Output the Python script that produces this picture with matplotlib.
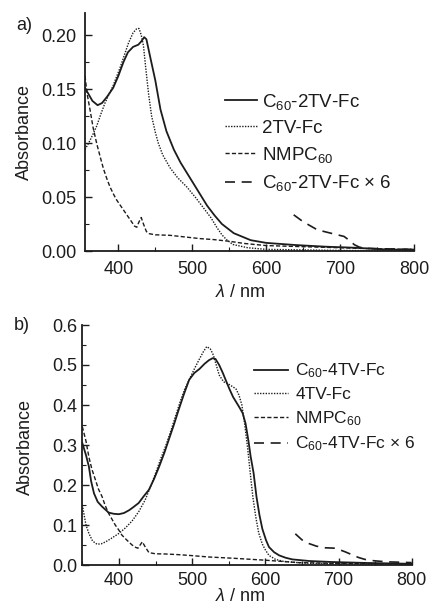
import matplotlib
matplotlib.use("Agg")
import matplotlib.pyplot as plt
from matplotlib.ticker import MultipleLocator, FormatStrFormatter

plt.rcParams['font.family'] = ['Liberation Sans', 'DejaVu Sans']
plt.rcParams['mathtext.fontset'] = 'custom'
plt.rcParams['mathtext.rm'] = 'Liberation Sans'
plt.rcParams['mathtext.it'] = 'Liberation Sans:italic'
plt.rcParams['mathtext.bf'] = 'Liberation Sans:bold'

# ---------------- Panel a data ----------------
a_c60_wl = [355, 360, 365, 372, 378, 385, 393, 400, 407, 413, 420, 427, 431, 435, 438, 443,
            450, 457, 465, 475, 484, 493, 502, 511, 520, 530, 540, 556, 579, 600, 640, 680,
            720, 760, 800]
a_c60_val = [0.151, 0.145, 0.139, 0.135, 0.137, 0.143, 0.151, 0.162, 0.175, 0.184, 0.189,
             0.191, 0.194, 0.198, 0.196, 0.180, 0.158, 0.131, 0.111, 0.094, 0.082, 0.072,
             0.062, 0.052, 0.042, 0.033, 0.025, 0.0165, 0.010, 0.0075, 0.0055, 0.004, 0.003,
             0.0015, 0.001]

a_tv_wl = [355, 360, 365, 371, 376, 382, 388, 393, 398, 402, 408, 414, 420, 425, 428, 431,
           434, 437, 441, 445, 450, 454, 460, 470, 480, 493, 505, 515, 525, 533, 540, 547,
           555, 575, 600, 700, 800]
a_tv_val = [0.094, 0.100, 0.107, 0.116, 0.126, 0.137, 0.146, 0.153, 0.162, 0.169, 0.181,
            0.193, 0.202, 0.206, 0.206, 0.200, 0.190, 0.170, 0.145, 0.125, 0.110, 0.100,
            0.089, 0.077, 0.068, 0.059, 0.049, 0.040, 0.031, 0.022, 0.015, 0.010, 0.006,
            0.003, 0.0015, 0.0005, 0.0]

a_nm_wl = [355, 358, 362, 366, 371, 376, 380, 385, 389, 394, 398, 405, 411, 417, 422, 425,
           428, 431, 434, 438, 442, 450, 470, 490, 510, 530, 550, 570, 600, 650, 700, 750, 800]
a_nm_val = [0.162, 0.145, 0.130, 0.114, 0.099, 0.086, 0.076, 0.066, 0.059, 0.052, 0.047,
            0.040, 0.034, 0.028, 0.023, 0.022, 0.027, 0.031, 0.025, 0.018, 0.016, 0.015,
            0.0145, 0.013, 0.0115, 0.0105, 0.009, 0.007, 0.005, 0.004, 0.003, 0.002, 0.0015]

a_x6_wl = [637, 650, 669, 690, 705, 712, 719, 726, 735, 760, 800]
a_x6_val = [0.0335, 0.027, 0.0196, 0.016, 0.0135, 0.010, 0.0058, 0.0035, 0.0025, 0.002, 0.0015]

# ---------------- Panel b data ----------------
b_c60_wl = [350, 355, 359, 362, 366, 371, 377, 386, 393, 400, 407, 414, 420, 427, 434, 441,
            448, 455, 462, 468, 475, 482, 489, 496, 503, 510, 517, 523, 528, 532, 537, 542,
            546, 551, 556, 564, 569, 573, 577, 580, 584, 588, 592, 596, 601, 605, 612, 619,
            628, 637, 660, 691, 740, 800]
b_c60_val = [0.305, 0.275, 0.246, 0.210, 0.179, 0.158, 0.146, 0.131, 0.128, 0.127, 0.130,
             0.137, 0.145, 0.155, 0.172, 0.188, 0.215, 0.246, 0.280, 0.3125, 0.350, 0.390,
             0.428, 0.463, 0.480, 0.490, 0.503, 0.512, 0.517, 0.515, 0.500, 0.480, 0.462,
             0.440, 0.420, 0.396, 0.380, 0.354, 0.310, 0.271, 0.230, 0.170, 0.125, 0.090,
             0.062, 0.045, 0.032, 0.024, 0.018, 0.014, 0.010, 0.0075, 0.005, 0.003]

b_tv_wl = [350, 352, 355, 359, 364, 370, 376, 382, 390, 400, 409, 418, 427, 436, 443, 450,
           457, 464, 470, 477, 484, 490, 496, 503, 510, 515, 520, 525, 529, 533, 537, 543,
           550, 556, 560, 564, 568, 572, 576, 580, 583, 587, 591, 596, 600, 605, 614, 625,
           650, 700, 800]
b_tv_val = [0.150, 0.130, 0.100, 0.079, 0.060, 0.052, 0.053, 0.058, 0.067, 0.079, 0.093,
            0.110, 0.133, 0.163, 0.195, 0.229, 0.265, 0.298, 0.330, 0.370, 0.410, 0.440,
            0.463, 0.490, 0.515, 0.532, 0.546, 0.540, 0.525, 0.500, 0.475, 0.458, 0.452,
            0.445, 0.440, 0.425, 0.400, 0.350, 0.290, 0.220, 0.170, 0.120, 0.080, 0.052,
            0.038, 0.024, 0.014, 0.009, 0.005, 0.003, 0.002]

b_nm_wl = [350, 355, 359, 363, 368, 372, 377, 381, 386, 391, 395, 400, 404, 411, 418, 423,
           426, 429, 432, 436, 441, 450, 464, 480, 496, 523, 555, 600, 645, 700, 800]
b_nm_val = [0.346, 0.310, 0.270, 0.240, 0.2125, 0.190, 0.171, 0.150, 0.129, 0.113, 0.100,
            0.087, 0.075, 0.062, 0.050, 0.044, 0.042, 0.050, 0.058, 0.045, 0.031, 0.028,
            0.0275, 0.026, 0.024, 0.020, 0.017, 0.012, 0.006, 0.004, 0.003]

b_x6_wl = [641, 650, 659, 670, 682, 696, 709, 718, 727, 736, 746, 765, 800]
b_x6_val = [0.078, 0.063, 0.054, 0.047, 0.043, 0.042, 0.033, 0.026, 0.019, 0.014, 0.011,
            0.008, 0.006]

legend_a = ['C$_{60}$-2TV-Fc', '2TV-Fc', 'NMPC$_{60}$', 'C$_{60}$-2TV-Fc × 6']
legend_b = ['C$_{60}$-4TV-Fc', '4TV-Fc', 'NMPC$_{60}$', 'C$_{60}$-4TV-Fc × 6']

ink = '#1c1c1c'
styles = [dict(ls='-', lw=1.3),
          dict(ls=(0, (1, 1)), lw=1.0),
          dict(ls=(0, (3, 1.6)), lw=1.0),
          dict(ls=(0, (6, 4)), lw=1.2)]

fig = plt.figure(figsize=(4.30, 6.06), dpi=100)
ax_a = fig.add_axes([85 / 430, 1 - 251 / 606, (414.3 - 85) / 430, (251 - 13.4) / 606])
ax_b = fig.add_axes([82.3 / 430, 1 - 565 / 606, (411.7 - 82.3) / 430, (565 - 325) / 606])


def style_axes(ax, xlim, ylim, ymaj, ymin, yfmt, xpad, ypad):
    ax.set_xlim(*xlim)
    ax.set_ylim(*ylim)
    for s in ['top', 'right']:
        ax.spines[s].set_visible(False)
    for s in ['left', 'bottom']:
        ax.spines[s].set_linewidth(1.3)
        ax.spines[s].set_color(ink)
    ax.xaxis.set_major_locator(MultipleLocator(100))
    ax.xaxis.set_minor_locator(MultipleLocator(50))
    ax.yaxis.set_major_locator(MultipleLocator(ymaj))
    ax.yaxis.set_minor_locator(MultipleLocator(ymin))
    ax.yaxis.set_major_formatter(FormatStrFormatter(yfmt))
    ax.tick_params(which='both', direction='in', color=ink, labelcolor=ink)
    ax.tick_params(which='major', length=5, width=1.0, labelsize=13)
    ax.tick_params(which='minor', length=3, width=0.8)
    ax.tick_params(axis='x', pad=xpad)
    ax.tick_params(axis='y', pad=ypad)


series_a = [(a_c60_wl, a_c60_val), (a_tv_wl, a_tv_val), (a_nm_wl, a_nm_val), (a_x6_wl, a_x6_val)]
series_b = [(b_c60_wl, b_c60_val), (b_tv_wl, b_tv_val), (b_nm_wl, b_nm_val), (b_x6_wl, b_x6_val)]

for (x, y), st, lab in zip(series_a, styles, legend_a):
    ax_a.plot(x, y, color=ink, label=lab, clip_on=True, **st)
for (x, y), st, lab in zip(series_b, styles, legend_b):
    ax_b.plot(x, y, color=ink, label=lab, clip_on=True, **st)

style_axes(ax_a, (355, 800), (0, 0.22), 0.05, 0.025, '%.2f', 7, 6)
style_axes(ax_b, (350, 800), (0, 0.6), 0.1, 0.05, '%.1f', 5, 3.5)

leg_a = ax_a.legend(frameon=False, loc='upper left', bbox_to_anchor=(0.425, 0.67),
                    fontsize=13.5, handlelength=1.7, handletextpad=0.27,
                    labelspacing=0.43, borderaxespad=0, borderpad=0)
leg_b = ax_b.legend(frameon=False, loc='upper left', bbox_to_anchor=(0.52, 0.847),
                    fontsize=12.5, handlelength=2.0, handletextpad=0.4,
                    labelspacing=0.39, borderaxespad=0, borderpad=0)
for leg in (leg_a, leg_b):
    for t in leg.get_texts():
        t.set_color(ink)

for ax in (ax_a, ax_b):
    ax.set_ylabel('Absorbance', fontsize=13, color=ink)
    ax.set_xlabel('$\\lambda$ / nm', fontsize=13, color=ink)

ax_a.yaxis.set_label_coords(24 / 430, 1 - 132.5 / 606, transform=fig.transFigure)
ax_b.yaxis.set_label_coords(25 / 430, 1 - 447 / 606, transform=fig.transFigure)
ax_a.xaxis.set_label_coords(240 / 430, 1 - 292 / 606, transform=fig.transFigure)
ax_b.xaxis.set_label_coords(240 / 430, 1 - 605 / 606, transform=fig.transFigure)
ax_a.xaxis.label.set_va('center')
ax_b.xaxis.label.set_va('bottom')
for ax in (ax_a, ax_b):
    ax.yaxis.label.set_va('center')
    ax.yaxis.label.set_ha('center')

fig.text(24 / 430, 1 - 25 / 606, 'a)', fontsize=13, ha='center', va='center', color=ink)
fig.text(22 / 430, 1 - 326 / 606, 'b)', fontsize=13, ha='center', va='center', color=ink)

fig.savefig('out.png', dpi=100)
